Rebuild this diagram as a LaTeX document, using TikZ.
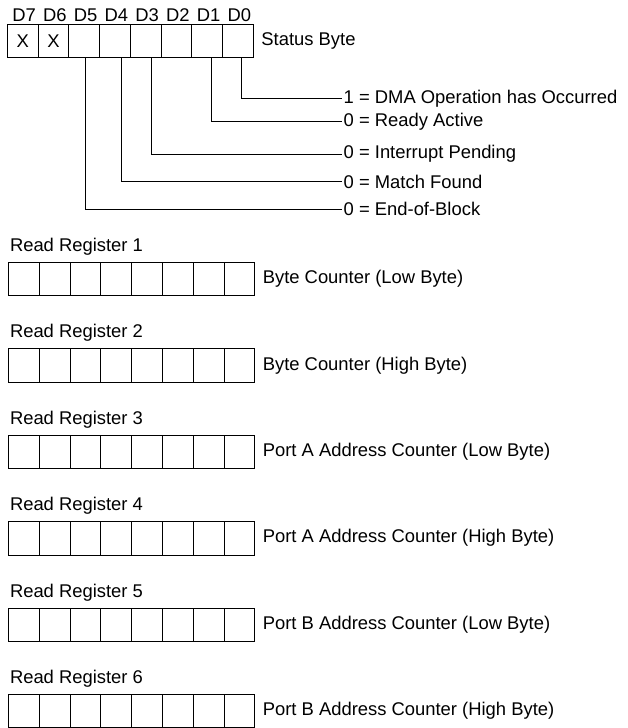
\documentclass[tikz,border=0pt]{standalone}
\usepackage{fontspec}
\setmainfont{Liberation Sans}
\usetikzlibrary{positioning}

\begin{document}
\begin{tikzpicture}[x=1pt,y=-1pt,
  cell/.style={draw,line width=0.8pt,minimum width=30.8pt,minimum height=33.4pt,inner sep=0pt,font=\fontsize{18.4}{21}\selectfont},
  txt/.style={font=\fontsize{18.4}{21}\selectfont,inner sep=1.5pt},
  lead/.style={line width=0.8pt}]
  \useasboundingbox (0,0) rectangle (627,728);
  % status byte with bit names
  \foreach \i/\m in {7/X,6/X,5/,4/,3/,2/,1/,0/} {
    \node[cell] (s\i) at ({7.3+30.75*(7-\i)+15.4},40.7) {\m};
    \node[txt,anchor=base] (d\i) at ({7.3+30.75*(7-\i)+15.4+1.5},21) {D\i};
  }
  \node[txt,right=6pt of s0] (stat) {Status Byte};
  % bit meanings
  \node[txt,anchor=west] (l0) at (342,98.3) {1 = DMA Operation has Occurred};
  \node[txt,anchor=west] (l1) at (342,121.7) {0 = Ready Active};
  \node[txt,anchor=west] (l3) at (342,154) {0 = Interrupt Pending};
  \node[txt,anchor=west] (l4) at (342,181.7) {0 = Match Found};
  \node[txt,anchor=west] (l5) at (342,209) {0 = End-of-Block};
  \draw[lead] ([xshift=3pt]s0.south) |- (l0.west);
  \draw[lead] ([xshift=4pt]s1.south) |- (l1.west);
  \draw[lead] ([xshift=6pt]s3.south) |- (l3.west);
  \draw[lead] ([xshift=6pt]s4.south) |- (l4.west);
  \draw[lead] ([xshift=1pt]s5.south) |- (l5.west);
  % read registers 1..6
  \foreach \k/\desc in {1/Byte Counter (Low Byte),2/Byte Counter (High Byte),
      3/Port A Address Counter (Low Byte),4/Port A Address Counter (High Byte),
      5/Port B Address Counter (Low Byte),6/Port B Address Counter (High Byte)} {
    \pgfmathsetmacro\cy{279+86.4*(\k-1)}
    \node[txt,anchor=west] (rr\k) at (8.3,\cy-32.3) {Read Register \k};
    \foreach \i in {7,...,0}
      \node[cell] (r\k c\i) at ({8.3+30.8*(7-\i)+15.4},\cy) {};
    \node[txt,right=6pt of r\k c0] (rd\k) {\desc};
  }
\end{tikzpicture}
\end{document}
